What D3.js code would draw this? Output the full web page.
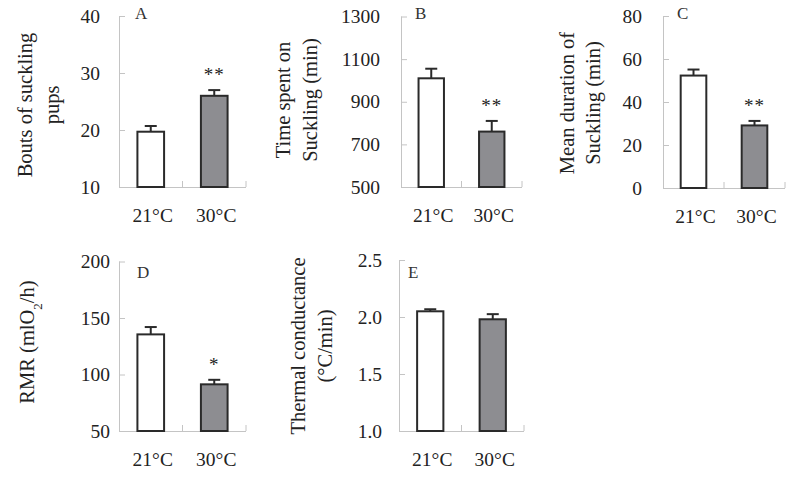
<!DOCTYPE html>
<html><head><meta charset="utf-8">
<script src="https://cdn.jsdelivr.net/npm/d3@7"></script>
<style>
html,body{margin:0;padding:0;background:#fff;}
text{font-family:"Liberation Serif","Times New Roman",serif;fill:#222;}
</style></head>
<body>
<svg id="chart" width="787" height="481"></svg>
<script>
// ---- data ----
const categories = ["21°C", "30°C"];
const panelLetters = ["A", "B", "C", "D", "E"];

const boutsMean = [19.7, 26.0];
const boutsSE = [1.0, 1.0];
const boutsTicks = [10, 20, 30, 40];
const boutsSig = ["", "**"];

const timeMean = [1010, 760];
const timeSE = [45, 50];
const timeTicks = [500, 700, 900, 1100, 1300];
const timeSig = ["", "**"];

const durMean = [52.3, 29.1];
const durSE = [2.8, 2.1];
const durTicks = [0, 20, 40, 60, 80];
const durSig = ["", "**"];

const rmrMean = [135.5, 91.3];
const rmrSE = [6.5, 4.0];
const rmrTicks = [50, 100, 150, 200];
const rmrSig = ["", "*"];

const condMean = [2.05, 1.98];
const condSE = [0.018, 0.045];
const condTicks = [1.0, 1.5, 2.0, 2.5];
const condSig = ["", ""];

// ---- layout ----
const panels = [
  {letter: panelLetters[0], mean: boutsMean, se: boutsSE, ticks: boutsTicks, sig: boutsSig, fmt: d3.format("d"),
   x0: 119, x1: 246, yTop: 16, yBot: 187, labelGap: 19, title: ["Bouts of suckling", "pups"], titleX: [25, 52], titleY: 105,
   letterX: 135, letterY: 19},
  {letter: panelLetters[1], mean: timeMean, se: timeSE, ticks: timeTicks, sig: timeSig, fmt: d3.format("d"),
   x0: 401, x1: 522, yTop: 16.5, yBot: 187, labelGap: 21, title: ["Time spent on", "Suckling (min)"], titleX: [283, 310], titleY: 100,
   letterX: 415, letterY: 19},
  {letter: panelLetters[2], mean: durMean, se: durSE, ticks: durTicks, sig: durSig, fmt: d3.format("d"),
   x0: 663, x1: 785, yTop: 16, yBot: 188, labelGap: 21, title: ["Mean duration of", "Suckling (min)"], titleX: [567, 593], titleY: 103,
   letterX: 677, letterY: 19},
  {letter: panelLetters[3], mean: rmrMean, se: rmrSE, ticks: rmrTicks, sig: rmrSig, fmt: d3.format("d"),
   x0: 119, x1: 246, yTop: 261.5, yBot: 431, labelGap: 9, title: ["RMR (mlO2/h)"], titleX: [27], titleY: 342,
   letterX: 137, letterY: 278},
  {letter: panelLetters[4], mean: condMean, se: condSE, ticks: condTicks, sig: condSig, fmt: d3.format(".1f"),
   x0: 399, x1: 524, yTop: 260, yBot: 431, labelGap: 17, title: ["Thermal conductance", "(°C/min)"], titleX: [298, 325], titleY: 346,
   letterX: 408, letterY: 278}
];

const svg = d3.select("#chart");
const axisColor = "#c4c4c4";
const fills = ["#ffffff", "#8d8d91"];

panels.forEach(p => {
  const g = svg.append("g");
  const y = d3.scaleLinear().domain([p.ticks[0], p.ticks[p.ticks.length - 1]]).range([p.yBot, p.yTop]);
  const x = d3.scaleBand().domain(categories).range([p.x0, p.x1]).padding(0);
  const bw = x.bandwidth();
  const barW = bw * 0.42;

  // y axis (inward ticks)
  const yAxis = d3.axisRight(y).tickValues(p.ticks).tickSize(6).tickFormat("");
  const ya = g.append("g").attr("transform", `translate(${p.x0},0)`).call(yAxis);
  ya.select(".domain").attr("stroke", axisColor).attr("d", `M0.5,${p.yTop}V${p.yBot}`);
  ya.selectAll(".tick line").attr("stroke", axisColor);
  // y tick labels
  g.selectAll(".ylab").data(p.ticks).enter().append("text")
    .attr("x", p.x0 - p.labelGap).attr("y", d => y(d)).attr("dy", "0.34em")
    .attr("text-anchor", "end").style("font-size", "19.5px").text(p.fmt);

  // x axis with inward ticks at category boundaries
  g.append("line").attr("x1", p.x0).attr("x2", p.x1).attr("y1", p.yBot + 0.5).attr("y2", p.yBot + 0.5)
    .attr("stroke", axisColor);
  g.selectAll(".xt").data(categories).enter().append("line")
    .attr("x1", d => x(d) + bw).attr("x2", d => x(d) + bw)
    .attr("y1", p.yBot).attr("y2", p.yBot - 6).attr("stroke", axisColor);

  // bars
  g.selectAll(".bar").data(categories).enter().append("rect")
    .attr("x", d => x(d) + (bw - barW) / 2)
    .attr("y", (d, i) => y(p.mean[i]))
    .attr("width", barW)
    .attr("height", (d, i) => y(p.ticks[0]) - y(p.mean[i]))
    .attr("fill", (d, i) => fills[i]).attr("stroke", "#2a2a2a").attr("stroke-width", 2);

  // error bars (upper only)
  const capW = 12;
  categories.forEach((c, i) => {
    const cx = x(c) + bw / 2;
    const yt = y(p.mean[i] + p.se[i]);
    g.append("line").attr("x1", cx).attr("x2", cx).attr("y1", y(p.mean[i])).attr("y2", yt)
      .attr("stroke", "#2a2a2a").attr("stroke-width", 2);
    g.append("line").attr("x1", cx - capW / 2).attr("x2", cx + capW / 2).attr("y1", yt).attr("y2", yt)
      .attr("stroke", "#2a2a2a").attr("stroke-width", 2);
    if (p.sig[i]) {
      g.append("text").attr("x", cx).attr("y", yt - 9).attr("text-anchor", "middle")
        .style("font-size", "19px").style("letter-spacing", "1px").text(p.sig[i]);
    }
    // category label
    g.append("text").attr("x", cx + 2).attr("y", p.yBot + 35).attr("text-anchor", "middle")
      .style("font-size", "19.5px").text(c);
  });

  // panel letter
  g.append("text").attr("x", p.letterX).attr("y", p.letterY).style("font-size", "17px").style("fill", "#333").text(p.letter);

  // axis title (rotated)
  p.title.forEach((t, k) => {
    const tt = g.append("text")
      .attr("transform", `translate(${p.titleX[k]},${p.titleY}) rotate(-90)`)
      .attr("text-anchor", "middle").attr("dy", "0.35em").style("font-size", "20.5px");
    if (t.indexOf("O2") >= 0) {
      const parts = t.split("O2");
      tt.append("tspan").text(parts[0] + "O");
      tt.append("tspan").attr("baseline-shift", "sub").style("font-size", "13px").text("2");
      tt.append("tspan").text(parts[1]);
    } else {
      tt.text(t);
    }
  });
});
</script>
</body></html>
